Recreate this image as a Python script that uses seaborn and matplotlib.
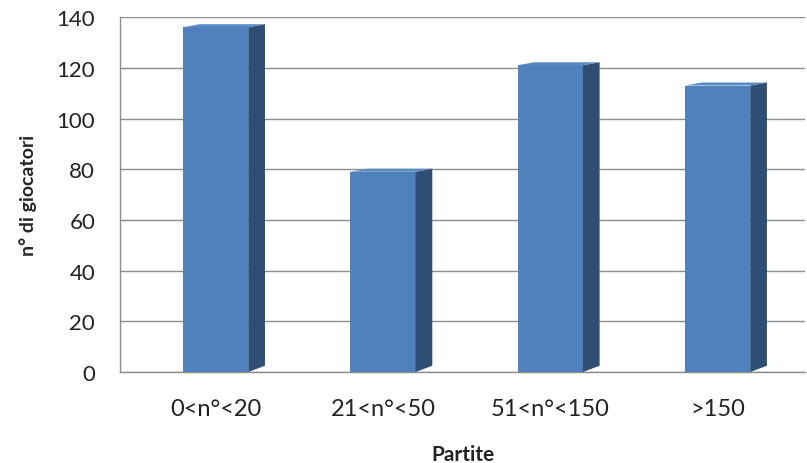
import matplotlib
matplotlib.use("Agg")
import matplotlib.pyplot as plt
from matplotlib.patches import Polygon
import seaborn as sns
import pandas as pd

# data
categories = ["0<n°<20", "21<n°<50", "51<n°<150", ">150"]
players = [136, 79, 121, 113]
y_ticks = [0, 20, 40, 60, 80, 100, 120, 140]

df = pd.DataFrame({"Partite": categories, "giocatori": players})

sns.set_theme(style="white")
plt.rcParams["font.family"] = ["Lato", "DejaVu Sans"]

fig = plt.figure(figsize=(8.07, 4.64), dpi=100)
ax = fig.add_axes([0.149, 0.196, 0.848, 0.765])

front = "#4F81BD"
side = "#2F4E74"
top = "#5A8AC4"

sns.barplot(data=df, x="Partite", y="giocatori", color=front, width=0.39,
            saturation=1, ax=ax, zorder=3)

# fake 3D depth: side and top faces taken from each bar's geometry
dx, dy = 0.1, 1.2
for p in ax.patches[:len(players)]:
    p.set_edgecolor("none")
    x0 = p.get_x()
    x1 = x0 + p.get_width()
    h = p.get_height()
    ax.add_patch(Polygon([(x1, 0), (x1 + dx, 2.5), (x1 + dx, h + dy), (x1, h)],
                         closed=True, facecolor=side, edgecolor="none", zorder=3))
    ax.add_patch(Polygon([(x0, h), (x0 + dx, h + dy), (x1 + dx, h + dy), (x1, h)],
                         closed=True, facecolor=top, edgecolor="none", zorder=3))

ax.set_xlim(-0.57, 3.52)
ax.set_ylim(0, 140)
ax.set_yticks(y_ticks)
ax.yaxis.grid(True, color="#8C8C8C", linewidth=1, zorder=0)
ax.set_axisbelow(True)

for s in ["top", "right"]:
    ax.spines[s].set_visible(False)
for s in ["left", "bottom"]:
    ax.spines[s].set_color("#8C8C8C")
    ax.spines[s].set_linewidth(1)

ax.tick_params(axis="y", labelsize=16, colors="#222222", pad=18, length=0)
ax.tick_params(axis="x", labelsize=17, colors="#222222", pad=19, length=0)
ax.set_ylabel("n° di giocatori", fontsize=14, fontweight="bold", labelpad=14)
ax.set_xlabel("")
fig.text(0.574, 0.02, "Partite", ha="center", va="center",
         fontsize=15, fontweight="bold", color="#222222")

fig.savefig("out.png", dpi=100)
